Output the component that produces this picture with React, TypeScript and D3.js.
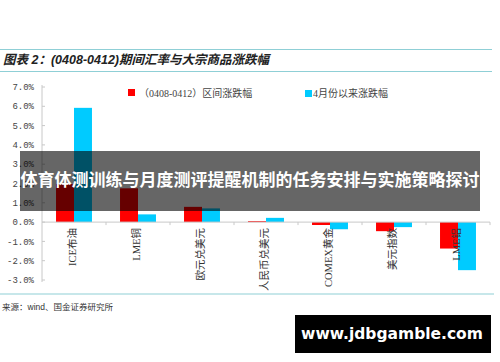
import React from "react";
import * as d3 from "d3";

const categories = ["ICE布油", "LME铜", "欧元兑美元", "人民币兑美元", "COMEX黄金", "美元指数", "LME铝"];
const weekChange = [1.97, 1.75, 0.79, 0.05, -0.15, -0.47, -1.37];
const aprChange = [5.92, 0.4, 0.71, 0.22, -0.37, -0.26, -2.49];
const seriesNames = ["（0408-0412）区间涨跌幅", "4月份以来涨跌幅"];
const seriesColors = ["#ff0000", "#00cbff"];
const yTicks = [7, 6, 5, 4, 3, 2, 1, 0, -1, -2, -3];
const titleText = "图表 2：(0408-0412)期间汇率与大宗商品涨跌幅";
const sourceText = "来源：wind、国金证券研究所";
const bannerText = "体育体测训练与月度测评提醒机制的任务安排与实施策略探讨";
const watermarkText = "www.jdbgamble.com";

export default function App() {
  const W = 500, H = 362;
  const left = 42, right = 490, top = 87, bottom = 280;
  const x = d3.scaleBand<string>().domain(categories).range([left, right]).padding(0);
  const x1 = d3.scaleBand<string>().domain(["a", "b"]).range([0, x.bandwidth()]).paddingOuter(0.78).paddingInner(0);
  const y = d3.scaleLinear().domain([-3, 7]).range([bottom, top]);
  const y0 = y(0);
  const serif = "'Liberation Serif', 'Noto Sans CJK SC', serif";
  const mono = "'Liberation Mono', monospace";
  const series = [weekChange, aprChange];
  const keys = ["a", "b"];
  return (
    <div style={{ position: "fixed", left: 0, top: 0, width: W, height: H, background: "#fff" }}>
      <svg width={W} height={H} style={{ display: "block" }}>
        <rect x={0} y={0} width={W} height={H} fill="#fff" />
        {/* title */}
        <line x1={0} x2={492} y1={49.5} y2={49.5} stroke="#8fcfd6" strokeWidth={1.2} />
        <text x={3} y={64} fontFamily="'Liberation Sans', 'Noto Sans CJK SC', sans-serif" fontSize={12.5} fontWeight="bold" fontStyle="italic" fill="#222">{titleText}</text>
        <line x1={0} x2={492} y1={71.5} y2={71.5} stroke="#8fcfd6" strokeWidth={1.2} />
        {/* y axis */}
        <line x1={left} x2={left} y1={top - 2} y2={bottom + 2} stroke="#c8c8c8" />
        {yTicks.map(t => (
          <g key={t}>
            <line x1={left} x2={left + 3} y1={y(t)} y2={y(t)} stroke="#c8c8c8" />
            <text x={34} y={y(t)} dy="0.35em" textAnchor="end" fontFamily={mono} fontSize={9} fill="#444">{t.toFixed(1) + "%"}</text>
          </g>
        ))}
        {/* bars */}
        {categories.map((c, i) => (
          <g key={c} transform={`translate(${x(c)},0)`}>
            {series.map((s, j) => {
              const v = s[i];
              return (
                <rect key={j} x={x1(keys[j])} width={x1.bandwidth()} y={Math.min(y(v), y0)} height={Math.abs(y(v) - y0)} fill={seriesColors[j]} />
              );
            })}
          </g>
        ))}
        {/* x axis */}
        <line x1={left} x2={right} y1={y0} y2={y0} stroke="#c8c8c8" />
        {categories.map(c => (
          <line key={"t" + c} x1={(x(c) as number) + x.bandwidth()} x2={(x(c) as number) + x.bandwidth()} y1={y0} y2={y0 + 3} stroke="#c8c8c8" />
        ))}
        {categories.map(c => (
          <text key={"l" + c} transform={`translate(${(x(c) as number) + x.bandwidth() / 2 - 2},${y0 + 6}) rotate(-90)`} textAnchor="end" dy="0.35em" fontFamily={serif} fontSize={10.5} fill="#333">{c}</text>
        ))}
        {/* legend */}
        <rect x={128} y={89} width={7} height={7} fill={seriesColors[0]} />
        <text x={139} y={93} dy="0.35em" fontFamily={serif} fontSize={10} fill="#444">{seriesNames[0]}</text>
        <rect x={305} y={90} width={7} height={7} fill={seriesColors[1]} />
        <text x={313} y={93} dy="0.35em" fontFamily={serif} fontSize={10} fill="#444">{seriesNames[1]}</text>
        {/* bottom */}
        <line x1={0} x2={494} y1={294} y2={294} stroke="#8fcfd6" strokeWidth={1.2} />
        <text x={2} y={307} dy="0.35em" fontFamily="'Liberation Sans', 'Noto Sans CJK SC', sans-serif" fontSize={8.5} fill="#333">{sourceText}</text>
        {/* banner overlay */}
        <rect x={20} y={151} width={460} height={60} fill="#000" fillOpacity={0.6} />
        <text x={250} y={186} textAnchor="middle" fontFamily="'Noto Sans CJK SC', sans-serif" fontWeight="bold" fontSize={17} fill="#fff">{bannerText}</text>
        {/* watermark */}
        <rect x={295} y={315} width={196} height={38} fill="#000" />
        <text x={392} y={334} dy="0.35em" textAnchor="middle" fontFamily="'DejaVu Sans', sans-serif" fontWeight="bold" fontSize={15.5} fill="#fff">{watermarkText}</text>
      </svg>
    </div>
  );
}
